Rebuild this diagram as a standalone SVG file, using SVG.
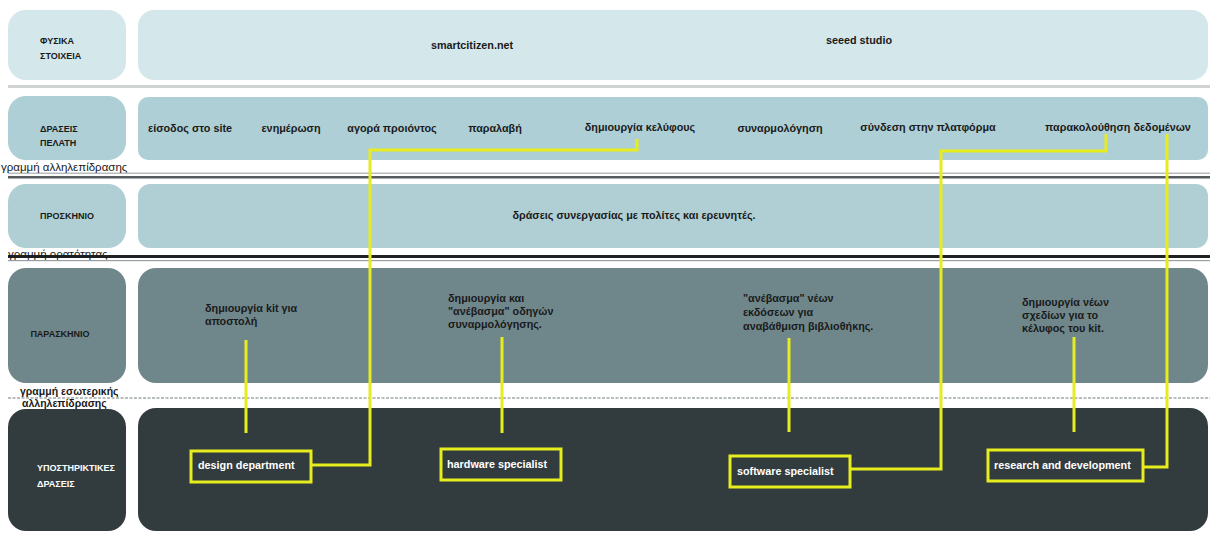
<svg xmlns="http://www.w3.org/2000/svg" width="1210" height="533" viewBox="0 0 1210 533">
<style>
text{font-family:"Liberation Sans","DejaVu Sans",sans-serif;font-size:11px;fill:#1a1a1a}
.lab{font-size:9px;font-weight:bold}
.w{fill:#ffffff}
.bk{font-size:10.8px;font-weight:bold}
.sb{font-size:10.8px;fill:#ffffff;font-weight:bold}
.y{fill:none;stroke:#e6ec1e;stroke-width:3}
.ln{font-size:11.5px}
</style>
<rect width="1210" height="533" fill="#ffffff"/>
<!-- lines -->
<g id="lines">
<rect x="8" y="85" width="1202" height="3" fill="#cfd3d4"/>
<rect x="8" y="172.5" width="1202" height="1.5" fill="#b8bcbd"/>
<rect x="8" y="176" width="1202" height="2.5" fill="#555a5c"/>
<rect x="8" y="255" width="1202" height="3" fill="#1e2224"/>
<rect x="8" y="260" width="1202" height="1.2" fill="#9aa0a2"/>
<line x1="8" y1="398" x2="1210" y2="398" stroke="#b8bdbf" stroke-width="2" stroke-dasharray="3,1.5"/>
<text class="ln" x="1" y="171">γραμμή αλληλεπίδρασης</text>
<text class="ln" x="8" y="258">γραμμή ορατότητας</text>
<text class="ln" x="20" y="395" style="font-weight:bold;font-size:10.5px">γραμμή εσωτερικής</text>
<text class="ln" x="22" y="407" style="font-weight:bold;font-size:10.5px">αλληλεπίδρασης</text>
</g>
<!-- row 1 -->
<g id="row-physical">
<rect x="8" y="10" width="118" height="70" rx="18" fill="#d4e7ea"/>
<rect x="138" y="10" width="1070" height="70" rx="16" fill="#d4e7ea"/>
<text class="lab" x="40" y="44">ΦΥΣΙΚΑ</text>
<text class="lab" x="40" y="59">ΣΤΟΙΧΕΙΑ</text>
<text class="bk" x="472" y="49" text-anchor="middle">smartcitizen.net</text>
<text class="bk" x="859" y="44" text-anchor="middle">seeed studio</text>
</g>
<!-- row 2 -->
<g id="row-customer">
<rect x="8" y="96" width="118" height="64" rx="18" fill="#aecfd5"/>
<rect x="138" y="97" width="1070" height="63" rx="10" fill="#aecfd5"/>
<text class="lab" x="40" y="132">ΔΡΑΣΕΙΣ</text>
<text class="lab" x="40" y="146">ΠΕΛΑΤΗ</text>
<text class="bk" x="190" y="132" text-anchor="middle">είσοδος στο site</text>
<text class="bk" x="291" y="132" text-anchor="middle">ενημέρωση</text>
<text class="bk" x="392" y="132" text-anchor="middle">αγορά προιόντος</text>
<text class="bk" x="495" y="132" text-anchor="middle">παραλαβή</text>
<text class="bk" x="640" y="131" text-anchor="middle">δημιουργία κελύφους</text>
<text class="bk" x="780" y="132" text-anchor="middle">συναρμολόγηση</text>
<text class="bk" x="928" y="131" text-anchor="middle">σύνδεση στην πλατφόρμα</text>
<text class="bk" x="1118" y="131" text-anchor="middle">παρακολούθηση δεδομένων</text>
</g>
<!-- row 3 -->
<g id="row-onstage">
<rect x="8" y="184" width="118" height="64" rx="18" fill="#afcfd4"/>
<rect x="138" y="184" width="1070" height="64" rx="12" fill="#afcfd4"/>
<text class="lab" x="67" y="219" text-anchor="middle">ΠΡΟΣΚΗΝΙΟ</text>
<text class="bk" x="634" y="219" text-anchor="middle">δράσεις συνεργασίας με πολίτες και ερευνητές.</text>
</g>
<!-- row 4 -->
<g id="row-backstage">
<rect x="8" y="268" width="118" height="115" rx="18" fill="#6f878b"/>
<rect x="138" y="268" width="1070" height="115" rx="18" fill="#6f878b"/>
<text class="lab" x="60" y="337" text-anchor="middle">ΠΑΡΑΣΚΗΝΙΟ</text>
<text class="bk" x="205" y="312">δημιουργία kit για</text>
<text class="bk" x="205" y="325">αποστολή</text>
<text class="bk" x="448" y="302">δημιουργία και</text>
<text class="bk" x="448" y="315">"ανέβασμα" οδηγών</text>
<text class="bk" x="448" y="328">συναρμολόγησης.</text>
<text class="bk" x="743" y="302">"ανέβασμα" νέων</text>
<text class="bk" x="743" y="316">εκδόσεων για</text>
<text class="bk" x="743" y="330">αναβάθμιση βιβλιοθήκης.</text>
<text class="bk" x="1022" y="306">δημιουργία νέων</text>
<text class="bk" x="1022" y="319">σχεδίων για το</text>
<text class="bk" x="1022" y="332">κέλυφος του kit.</text>
</g>
<!-- row 5 -->
<g id="row-support">
<rect x="8" y="409" width="118" height="122" rx="18" fill="#323c3f"/>
<rect x="138" y="408" width="1070" height="123" rx="18" fill="#323c3f"/>
<text class="lab w" x="37" y="471">ΥΠΟΣΤΗΡΙΚΤΙΚΕΣ</text>
<text class="lab w" x="37" y="487">ΔΡΑΣΕΙΣ</text>
</g>
<!-- connectors -->
<g id="connectors">
<line class="y" x1="246" y1="340" x2="246" y2="433"/>
<line class="y" x1="502" y1="337" x2="502" y2="433"/>
<line class="y" x1="789" y1="338" x2="789" y2="432"/>
<line class="y" x1="1074" y1="337" x2="1074" y2="432"/>
<polyline class="y" points="311,465 370,465 370,150 637,150 637,139"/>
<polyline class="y" points="850,469 941,469 941,151 1106,151 1106,134"/>
<polyline class="y" points="1143,467 1167,467 1167,134"/>
</g>
<g id="node-design">
<rect class="y" x="191" y="451" width="120" height="31"/>
<text class="sb" x="198" y="469">design department</text>
</g>
<g id="node-hardware">
<rect class="y" x="441" y="449" width="120" height="31"/>
<text class="sb" x="447" y="468">hardware specialist</text>
</g>
<g id="node-software">
<rect class="y" x="730" y="456" width="120" height="31"/>
<text class="sb" x="737" y="475">software specialist</text>
</g>
<g id="node-rnd">
<rect class="y" x="988" y="450" width="155" height="31"/>
<text class="sb" x="994" y="469">research and development</text>
</g>
</svg>
